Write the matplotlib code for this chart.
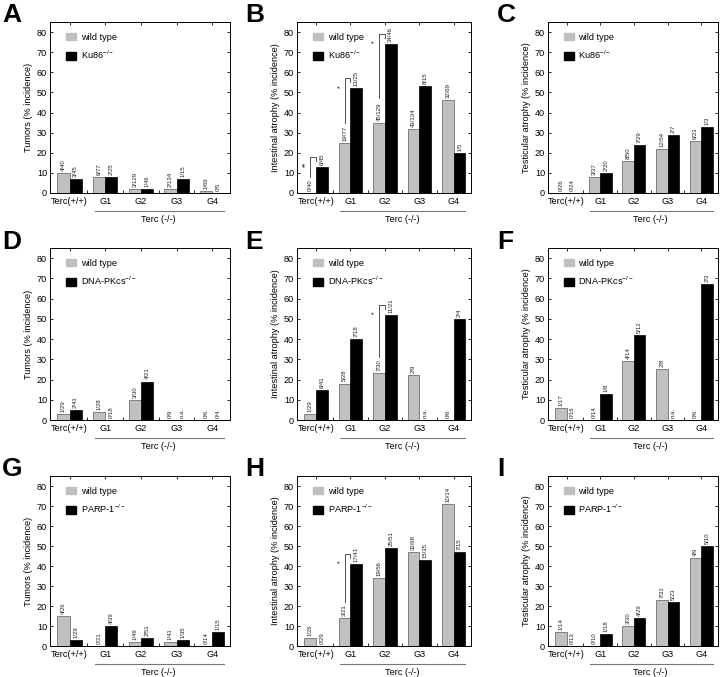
import matplotlib
matplotlib.use('Agg')
import matplotlib.pyplot as plt
from matplotlib.patches import Patch
import numpy as np

plt.rcParams['font.family'] = ['Liberation Sans', 'DejaVu Sans']
plt.rcParams['mathtext.fontset'] = 'custom'
plt.rcParams['mathtext.rm'] = 'Liberation Sans'
plt.rcParams['mathtext.it'] = 'Liberation Sans'

# ---- data ----
groups = ['Terc(+/+)', 'G1', 'G2', 'G3', 'G4']

# Ku86 row
tum_ku_wt = [10, 8, 2, 2, 1]
tum_ku_wt_n = ['4/40', '6/77', '3/129', '2/134', '1/69']
tum_ku_ko = [7, 8, 2, 7, 0]
tum_ku_ko_n = ['3/45', '2/25', '1/46', '1/15', '0/5']

int_ku_wt = [0, 25, 35, 32, 46]
int_ku_wt_n = ['0/40', '19/77', '45/129', '43/134', '32/69']
int_ku_ko = [13, 52, 74, 53, 20]
int_ku_ko_n = ['6/45', '13/25', '34/46', '8/15', '1/5']

tes_ku_wt = [0, 8, 16, 22, 26]
tes_ku_wt_n = ['0/26', '3/37', '8/50', '12/54', '6/23']
tes_ku_ko = [0, 10, 24, 29, 33]
tes_ku_ko_n = ['0/24', '2/20', '7/29', '2/7', '1/3']

# DNA-PKcs row (None = n.a.)
tum_pk_wt = [3, 4, 10, 0, 0]
tum_pk_wt_n = ['1/29', '1/28', '3/30', '0/9', '0/6']
tum_pk_ko = [5, 0, 19, None, 0]
tum_pk_ko_n = ['2/41', '0/18', '4/21', 'n.a.', '0/4']

int_pk_wt = [3, 18, 23, 22, 0]
int_pk_wt_n = ['1/29', '5/28', '7/30', '2/9', '0/6']
int_pk_ko = [15, 40, 52, None, 50]
int_pk_ko_n = ['6/41', '7/18', '11/21', 'n.a.', '2/4']

tes_pk_wt = [6, 0, 29, 25, 0]
tes_pk_wt_n = ['1/17', '0/14', '4/14', '2/8', '0/6']
tes_pk_ko = [0, 13, 42, None, 67]
tes_pk_ko_n = ['0/16', '1/8', '5/12', 'n.a.', '2/3']

# PARP-1 row
tum_pa_wt = [15, 0, 2, 2, 0]
tum_pa_wt_n = ['4/26', '0/21', '1/49', '1/41', '0/14']
tum_pa_ko = [3, 10, 4, 3, 7]
tum_pa_ko_n = ['1/29', '4/39', '2/51', '1/35', '1/15']

int_pa_wt = [4, 14, 34, 47, 71]
int_pa_wt_n = ['1/26', '3/21', '19/56', '32/68', '10/14']
int_pa_ko = [0, 41, 49, 43, 47]
int_pa_ko_n = ['0/29', '17/41', '25/51', '15/35', '7/15']

tes_pa_wt = [7, 0, 10, 23, 44]
tes_pa_wt_n = ['1/14', '0/10', '3/30', '7/31', '4/9']
tes_pa_ko = [0, 6, 14, 22, 50]
tes_pa_ko_n = ['0/13', '1/18', '4/29', '5/23', '5/10']

ko_names = ['Ku86$^{-/-}$', 'DNA-PKcs$^{-/-}$', 'PARP-1$^{-/-}$']
ylabels = ['Tumors (% incidence)', 'Intestinal atrophy (% incidence)',
           'Testicular atrophy (% incidence)']
letters = ['A', 'B', 'C', 'D', 'E', 'F', 'G', 'H', 'I']

# significance brackets: panel letter -> (group index, stars)
sig = {'B': [(0, '**'), (1, '*'), (2, '*')], 'E': [(2, '*')], 'H': [(1, '*')]}

rows = [
    [(tum_ku_wt, tum_ku_wt_n, tum_ku_ko, tum_ku_ko_n),
     (int_ku_wt, int_ku_wt_n, int_ku_ko, int_ku_ko_n),
     (tes_ku_wt, tes_ku_wt_n, tes_ku_ko, tes_ku_ko_n)],
    [(tum_pk_wt, tum_pk_wt_n, tum_pk_ko, tum_pk_ko_n),
     (int_pk_wt, int_pk_wt_n, int_pk_ko, int_pk_ko_n),
     (tes_pk_wt, tes_pk_wt_n, tes_pk_ko, tes_pk_ko_n)],
    [(tum_pa_wt, tum_pa_wt_n, tum_pa_ko, tum_pa_ko_n),
     (int_pa_wt, int_pa_wt_n, int_pa_ko, int_pa_ko_n),
     (tes_pa_wt, tes_pa_wt_n, tes_pa_ko, tes_pa_ko_n)],
]

# ---- layout ----
W, H = 720, 677
fig = plt.figure(figsize=(W / 100, H / 100), dpi=100)

col_px = [(50, 180), (297, 174), (548, 170)]   # left, width
row_px = [(22, 193), (248, 420), (476, 646)]   # top, bottom
letter_x = [2, 245, 497]
letter_y = [3, 230, 457]

grey = '#c0c0c0'
bw = 0.34
fs = 6.6
x = np.arange(len(groups))

for r in range(3):
    for c in range(3):
        wt, wt_n, ko, ko_n = rows[r][c]
        l, w = col_px[c]
        t, b = row_px[r]
        ax = fig.add_axes([l / W, 1 - b / H, w / W, (b - t) / H])
        ko_vals = [0 if v is None else v for v in ko]

        ax.bar(x - bw / 2, wt, bw, color=grey, edgecolor='#5a5a5a', lw=0.5)
        ax.bar(x + bw / 2, ko_vals, bw, color='black', edgecolor='black', lw=0.5)

        for i in range(len(groups)):
            ax.annotate(wt_n[i], (x[i] - bw / 2, wt[i]), xytext=(0, 1.5),
                        textcoords='offset points', rotation=90, ha='center',
                        va='bottom', fontsize=4.3, color='#222222')
            ax.annotate(ko_n[i], (x[i] + bw / 2, ko_vals[i]), xytext=(0, 1.5),
                        textcoords='offset points', rotation=90, ha='center',
                        va='bottom', fontsize=4.3, color='#222222')

        letter = letters[r * 3 + c]
        for g, stars in sig.get(letter, []):
            xv = g - bw / 2
            y_lo = wt[g] + 2.0 * len(wt_n[g])
            y_hi = ko_vals[g] + 5
            ax.plot([xv, xv, g, g], [y_lo, y_hi, y_hi, y_hi - 2],
                    color='#333333', lw=0.6, clip_on=False)
            ax.text(xv - 0.015, y_hi - 4, stars, rotation=90, ha='right',
                    va='center', fontsize=5)

        ax.set_xlim(-0.55, 4.5)
        ax.set_ylim(0, 85)
        ax.set_yticks(np.arange(0, 81, 10))
        ax.set_xticks(x)
        ax.set_xticklabels(groups)
        ax.set_xticks(x[:-1] + 0.5, minor=True)
        ax.tick_params(axis='y', direction='in', left=True, right=True,
                       length=2.5, width=0.6, labelsize=fs, pad=2)
        ax.tick_params(axis='x', which='major', direction='in', bottom=False,
                       top=True, length=2.5, width=0.6, labelsize=fs, pad=3)
        ax.tick_params(axis='x', which='minor', direction='in', bottom=True,
                       top=False, length=2, width=0.6)
        for s in ax.spines.values():
            s.set_linewidth(0.7)
        ax.set_ylabel(ylabels[c], fontsize=fs, labelpad=3)

        # Terc(-/-) group underline and label
        tr = ax.get_xaxis_transform()
        ax.plot([1 - bw + 0.05, 4 + bw], [-0.105, -0.105], transform=tr,
                clip_on=False, color='#777777', lw=0.8)
        ax.text(2.5, -0.155, 'Terc (-/-)', transform=tr, ha='center',
                va='center', fontsize=fs)

        handles = [Patch(facecolor=grey, edgecolor=grey),
                   Patch(facecolor='black', edgecolor='black')]
        ax.legend(handles, ['wild type', ko_names[r]], loc='upper left',
                  bbox_to_anchor=(0.06, 0.97), frameon=False, fontsize=fs,
                  handlelength=1.1, handleheight=0.9, handletextpad=0.5,
                  labelspacing=0.75, borderaxespad=0.2)

        fig.text(letter_x[c] / W, 1 - letter_y[r] / H, letter,
                 fontsize=19, fontweight='bold', ha='left', va='top')

fig.savefig('out.png', dpi=100)
